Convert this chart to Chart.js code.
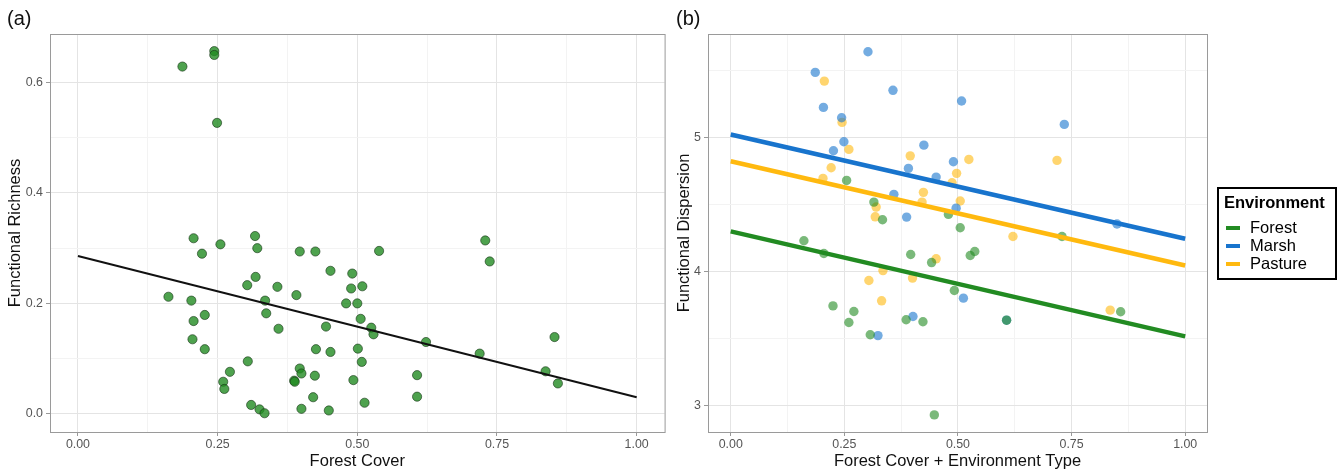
<!DOCTYPE html>
<html>
<head>
<meta charset="utf-8">
<script src="https://cdn.jsdelivr.net/npm/chart.js@4"></script>
<style>
  body { margin: 0; background: #fff; }
  #wrap { position: relative; width: 1341px; height: 471px; }
  canvas { position: absolute; top: 0; }
</style>
</head>
<body>
<div id="wrap">
  <canvas id="chartA" width="670" height="471" style="left:0"></canvas>
  <canvas id="chartB" width="671" height="471" style="left:670px"></canvas>
</div>
<script>
// ---- panel (a): functional richness vs forest cover ----
var richX = [0.187, 0.244, 0.244, 0.249, 0.207, 0.255, 0.317, 0.321, 0.222, 0.397, 0.425, 0.452,
    0.303, 0.318, 0.357, 0.391, 0.162, 0.203, 0.335, 0.337, 0.207, 0.227, 0.359, 0.444, 0.205,
    0.227, 0.426, 0.452, 0.304, 0.272, 0.260, 0.262, 0.397, 0.400, 0.387, 0.388, 0.424, 0.421,
    0.310, 0.325, 0.334, 0.400, 0.449, 0.729, 0.737, 0.539, 0.491, 0.489, 0.509, 0.480, 0.500,
    0.506, 0.525, 0.529, 0.623, 0.719, 0.853, 0.837, 0.859, 0.501, 0.508, 0.493, 0.607, 0.607, 0.513];
var richY = [0.629, 0.657, 0.650, 0.527, 0.318, 0.307, 0.322, 0.300, 0.290, 0.294, 0.294, 0.259,
    0.233, 0.248, 0.230, 0.215, 0.212, 0.205, 0.205, 0.182, 0.168, 0.179, 0.154, 0.158, 0.135,
    0.117, 0.117, 0.112, 0.095, 0.076, 0.058, 0.045, 0.082, 0.073, 0.060, 0.058, 0.069, 0.030,
    0.016, 0.008, 0.001, 0.009, 0.006, 0.314, 0.276, 0.295, 0.254, 0.227, 0.231, 0.200, 0.200,
    0.172, 0.156, 0.144, 0.130, 0.109, 0.139, 0.077, 0.055, 0.118, 0.094, 0.061, 0.070, 0.031, 0.020];
var fitAX = [0, 1];
var fitAY = [0.286, 0.030];

// ---- panel (b): functional dispersion by environment ----
var envNames = ['Forest', 'Marsh', 'Pasture'];
var forestX = [0.255, 0.315, 0.334, 0.479, 0.505, 0.729, 0.527, 0.537, 0.492, 0.858, 0.607, 0.161,
    0.205, 0.396, 0.442, 0.225, 0.271, 0.260, 0.386, 0.423, 0.307, 0.448];
var forestY = [4.681, 4.519, 4.387, 4.427, 4.327, 4.262, 4.120, 4.150, 3.858, 3.699, 3.636, 4.230,
    4.135, 4.127, 4.067, 3.743, 3.701, 3.619, 3.639, 3.624, 3.527, 2.928];
var marshX = [0.302, 0.186, 0.357, 0.204, 0.244, 0.249, 0.226, 0.425, 0.391, 0.452, 0.490, 0.359,
    0.387, 0.496, 0.508, 0.734, 0.850, 0.512, 0.401, 0.324, 0.607];
var marshY = [5.643, 5.489, 5.355, 5.227, 5.150, 4.970, 4.903, 4.945, 4.771, 4.706, 4.821, 4.577,
    4.407, 4.474, 5.275, 5.100, 4.355, 3.801, 3.664, 3.521, 3.636];
var pastureX = [0.206, 0.245, 0.260, 0.221, 0.203, 0.395, 0.497, 0.487, 0.424, 0.421, 0.320, 0.318,
    0.524, 0.718, 0.505, 0.621, 0.452, 0.335, 0.304, 0.400, 0.332, 0.835];
var pastureY = [5.424, 5.115, 4.913, 4.776, 4.696, 4.865, 4.734, 4.664, 4.592, 4.519, 4.482, 4.409,
    4.838, 4.831, 4.527, 4.262, 4.095, 4.007, 3.933, 3.951, 3.781, 3.711];
var fitBX = [0, 1];
var fitForest = [4.300, 3.515];
var fitMarsh = [5.025, 4.245];
var fitPasture = [4.825, 4.045];

var xTicks = [0, 0.25, 0.5, 0.75, 1];
var xTickLabels = ['0.00', '0.25', '0.50', '0.75', '1.00'];
var yTicksA = [0, 0.2, 0.4, 0.6];
var yTickLabelsA = ['0.0', '0.2', '0.4', '0.6'];
var yTicksB = [3, 4, 5];
var yTickLabelsB = ['3', '4', '5'];

var FONT = '"Liberation Sans", Arial, sans-serif';
var colForest = '#228B22', colMarsh = '#1874CD', colPasture = '#FFB90F';

function pts(xs, ys) {
    return xs.map(function (x, i) { return { x: x, y: ys[i] }; });
}

function near(a, b) { return Math.abs(a - b) < 1e-6; }

// major ticks plus ggplot-style minor breaks halfway between them
function tickSetter(major) {
    return function (scale) {
        var step = major[1] - major[0];
        var vals = [];
        major.forEach(function (v) { vals.push(v - step / 2); vals.push(v); });
        vals.push(major[major.length - 1] + step / 2);
        scale.ticks = vals.filter(function (v) {
            return v >= scale.min && v <= scale.max;
        }).map(function (v) { return { value: v }; });
    };
}

function axis(major, labels, min, max, title, titlePad, fixSize, horizontal) {
    var isMajor = function (v) { return major.some(function (m) { return near(m, v); }); };
    return {
        type: 'linear',
        min: min,
        max: max,
        afterBuildTicks: tickSetter(major),
        afterFit: function (s) { if (horizontal) s.height = fixSize; else s.width = fixSize; },
        border: { display: false },
        grid: {
            color: function (c) { return isMajor(c.tick.value) ? '#e4e4e4' : '#f3f3f3'; },
            lineWidth: 1,
            tickLength: 4,
            tickColor: function (c) { return isMajor(c.tick.value) ? '#999' : 'rgba(0,0,0,0)'; }
        },
        ticks: {
            autoSkip: false,
            maxRotation: 0,
            padding: horizontal ? 1 : 3,
            color: '#555',
            font: { family: FONT, size: 12.4 },
            callback: function (v) {
                for (var i = 0; i < major.length; i++) if (near(major[i], v)) return labels[i];
                return '';
            }
        },
        title: {
            display: true,
            text: title,
            color: '#111',
            font: { family: FONT, size: 16.5 },
            padding: titlePad
        }
    };
}

// panel frame and the (a)/(b) tag
var frame = {
    id: 'frame',
    afterDraw: function (chart) {
        var a = chart.chartArea, ctx = chart.ctx;
        ctx.save();
        ctx.strokeStyle = '#9a9a9a';
        ctx.lineWidth = 1;
        ctx.strokeRect(a.left + 0.5, a.top + 0.5, a.right - a.left, a.bottom - a.top);
        var tag = chart.options.plugins.frame;
        ctx.fillStyle = '#111';
        ctx.font = '20px ' + FONT;
        ctx.textBaseline = 'middle';
        ctx.fillText(tag.text, tag.x, 19);
        ctx.restore();
    }
};

// ggplot-like boxed legend for panel (b)
var envLegend = {
    id: 'envLegend',
    afterDraw: function (chart) {
        var ctx = chart.ctx;
        var x = 548, y = 188, w = 118, h = 91;
        ctx.save();
        ctx.strokeStyle = '#000';
        ctx.lineWidth = 2;
        ctx.strokeRect(x, y, w, h);
        ctx.fillStyle = '#000';
        ctx.textBaseline = 'middle';
        ctx.font = 'bold 16.5px ' + FONT;
        ctx.fillText('Environment', x + 6, y + 15);
        var cols = [colForest, colMarsh, colPasture];
        ctx.font = '16.5px ' + FONT;
        envNames.forEach(function (name, i) {
            var cy = y + 40 + i * 18;
            ctx.strokeStyle = cols[i];
            ctx.lineWidth = 4;
            ctx.beginPath();
            ctx.moveTo(x + 8, cy);
            ctx.lineTo(x + 22, cy);
            ctx.stroke();
            ctx.fillStyle = '#000';
            ctx.fillText(name, x + 32, cy);
        });
        ctx.restore();
    }
};

new Chart(document.getElementById('chartA'), {
    data: {
        datasets: [{
            type: 'line',
            data: pts(fitAX, fitAY),
            borderColor: '#111',
            borderWidth: 2,
            pointRadius: 0,
            order: 0
        }, {
            type: 'scatter',
            data: pts(richX, richY),
            backgroundColor: 'rgba(34,139,34,0.8)',
            borderColor: 'rgba(20,50,20,0.75)',
            borderWidth: 0.8,
            pointRadius: 4.6,
            order: 1
        }]
    },
    options: {
        responsive: false,
        animation: false,
        devicePixelRatio: 1,
        layout: { padding: { top: 34, right: 5, left: 0, bottom: 0 } },
        plugins: {
            legend: { display: false },
            tooltip: { enabled: false },
            frame: { text: '(a)', x: 7 }
        },
        scales: {
            x: axis(xTicks, xTickLabels, -0.05, 1.05, 'Forest Cover', { top: 0, bottom: 0 }, 39, true),
            y: axis(yTicksA, yTickLabelsA, -0.033, 0.688, 'Functional Richness', { top: 6, bottom: 0 }, 50, false)
        }
    },
    plugins: [frame]
});

function envPoints(xs, ys, rgb) {
    return {
        type: 'scatter',
        data: pts(xs, ys),
        backgroundColor: 'rgba(' + rgb + ',0.6)',
        borderWidth: 0,
        pointRadius: 4.7,
        order: 1
    };
}

function envLine(ys, col) {
    return {
        type: 'line',
        data: pts(fitBX, ys),
        borderColor: col,
        borderWidth: 4.5,
        pointRadius: 0,
        order: 0
    };
}

new Chart(document.getElementById('chartB'), {
    data: {
        datasets: [
            envPoints(forestX, forestY, '34,139,34'),
            envPoints(marshX, marshY, '24,116,205'),
            envPoints(pastureX, pastureY, '255,185,15'),
            envLine(fitForest, colForest),
            envLine(fitMarsh, colMarsh),
            envLine(fitPasture, colPasture)
        ]
    },
    options: {
        responsive: false,
        animation: false,
        devicePixelRatio: 1,
        layout: { padding: { top: 34, right: 134, left: 0, bottom: 0 } },
        plugins: {
            legend: { display: false },
            tooltip: { enabled: false },
            frame: { text: '(b)', x: 6 }
        },
        scales: {
            x: axis(xTicks, xTickLabels, -0.05, 1.048, 'Forest Cover + Environment Type', { top: 0, bottom: 0 }, 39, true),
            y: axis(yTicksB, yTickLabelsB, 2.80, 5.776, 'Functional Dispersion', { top: 4.6, bottom: 0 }, 38, false)
        }
    },
    plugins: [frame, envLegend]
});
</script>
</body>
</html>
